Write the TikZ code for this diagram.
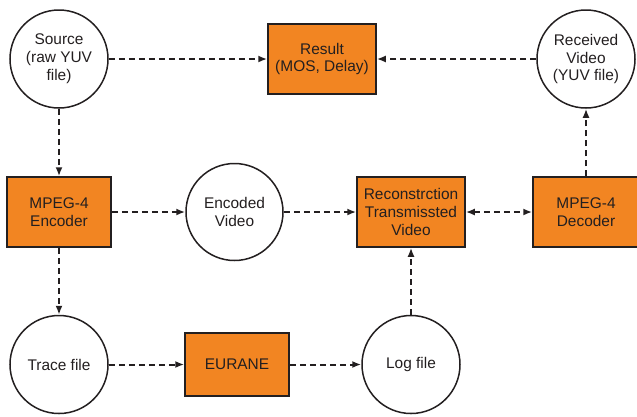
\documentclass[tikz,border=0pt]{standalone}
\usepackage{fontspec}
\setmainfont{Liberation Sans}
\usetikzlibrary{arrows.meta}
\definecolor{boxorange}{RGB}{242,133,34}
\definecolor{ink}{RGB}{35,31,32}
\tikzset{
  base/.style={draw=ink, line width=1.5bp, text=ink, align=center, inner sep=0pt,
    font=\fontsize{15.5}{18}\selectfont},
  procbox/.style={base, rectangle, fill=boxorange, minimum width=#1, minimum height=70bp},
  procbox/.default=106bp,
  datacirc/.style={base, circle, fill=white, minimum size=98bp},
  flow/.style={draw=ink, line width=2bp, dash pattern=on 6bp off 4bp,
    -{Latex[length=9bp,width=7bp]}},
  dflow/.style={flow, {Latex[length=9bp,width=7bp]}-{Latex[length=9bp,width=7bp]}}
}
\begin{document}
\begin{tikzpicture}[x=1bp,y=-1bp]
  \useasboundingbox (0,0) rectangle (637,416);

  % top row
  \node[datacirc] (src) at (59,59) {Source\\(raw YUV\\file)};
  \node[procbox=108bp] (res) at (322,59) {Result\\(MOS, Delay)};
  \node[datacirc] (rcv) at (586,59) {Received\\Video\\(YUV file)};

  % middle row
  \node[procbox=104bp] (enc) at (59,212) {MPEG-4\\Encoder};
  \node[datacirc, minimum size=97bp] (ev) at (234.5,212) {Encoded\\Video};
  \node[procbox=108bp] (rec) at (411,212) {Reconstrction\\Transmissted\\Video};
  \node[procbox=106bp] (dec) at (586,212) {MPEG-4\\Decoder};

  % bottom row
  \node[datacirc] (trc) at (59,364.5) {Trace file};
  \node[procbox=104bp, minimum height=63bp] (eur) at (237,364.5) {EURANE};
  \node[datacirc] (log) at (411,364.5) {Log file};

  % data flow
  \draw[flow] (src) -- (res);
  \draw[flow] (rcv) -- (res);
  \draw[flow] (src) -- (enc);
  \draw[flow] (dec) -- (rcv);
  \draw[flow] (enc) -- (ev);
  \draw[flow] (ev) -- (rec);
  \draw[dflow] (rec) -- (dec);
  \draw[flow] (enc) -- (trc);
  \draw[flow] (trc) -- (eur);
  \draw[flow] (eur) -- (log);
  \draw[flow] (log) -- (rec);
\end{tikzpicture}
\end{document}
